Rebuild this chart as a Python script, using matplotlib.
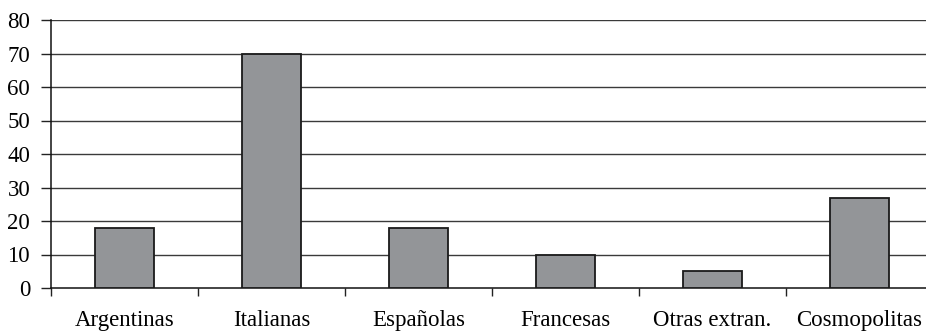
import numpy as np
import matplotlib
matplotlib.use('Agg')
import matplotlib.pyplot as plt

plt.rcParams.update({'font.family': 'serif',
                     'font.serif': ['Liberation Serif', 'DejaVu Serif'],
                     'font.size': 16.5})

categorias = ['Argentinas', 'Italianas', 'Españolas', 'Francesas',
              'Otras extran.', 'Cosmopolitas']
valores = [18, 70, 18, 10, 5, 27]
yticks = [0, 10, 20, 30, 40, 50, 60, 70, 80]

W, H = 926, 332
fig = plt.figure(figsize=(W / 100, H / 100), dpi=100)
ax = fig.add_axes([51 / W, 44 / H, 882 / W, 268 / H])

x = np.arange(len(categorias))
ax.bar(x, valores, width=0.4, color='#939598', edgecolor='#1a1a1a',
       linewidth=1.3, zorder=3)

for v in yticks[1:]:
    ax.axhline(v, color='#3a3a3a', lw=1.0, zorder=1)

ax.set_xlim(-0.5, len(categorias) - 0.5)
ax.set_ylim(0, 80)
ax.set_yticks(yticks)

# category labels centred, tick marks on the boundaries
ax.set_xticks(x)
ax.set_xticklabels(categorias)
ax.tick_params(axis='x', which='major', length=0, pad=16)
ax.set_xticks(np.arange(len(categorias) + 1) - 0.5, minor=True)
ax.tick_params(axis='x', which='minor', length=6, width=1, color='#222222',
               direction='out')
ax.tick_params(axis='y', length=7, width=1, pad=8, color='#222222')

for s in ['top', 'right']:
    ax.spines[s].set_visible(False)
ax.spines['left'].set_linewidth(1.1)
ax.spines['bottom'].set_linewidth(1.1)
ax.spines['left'].set_color('#111111')
ax.spines['bottom'].set_color('#111111')

plt.savefig('out.png', dpi=100)
